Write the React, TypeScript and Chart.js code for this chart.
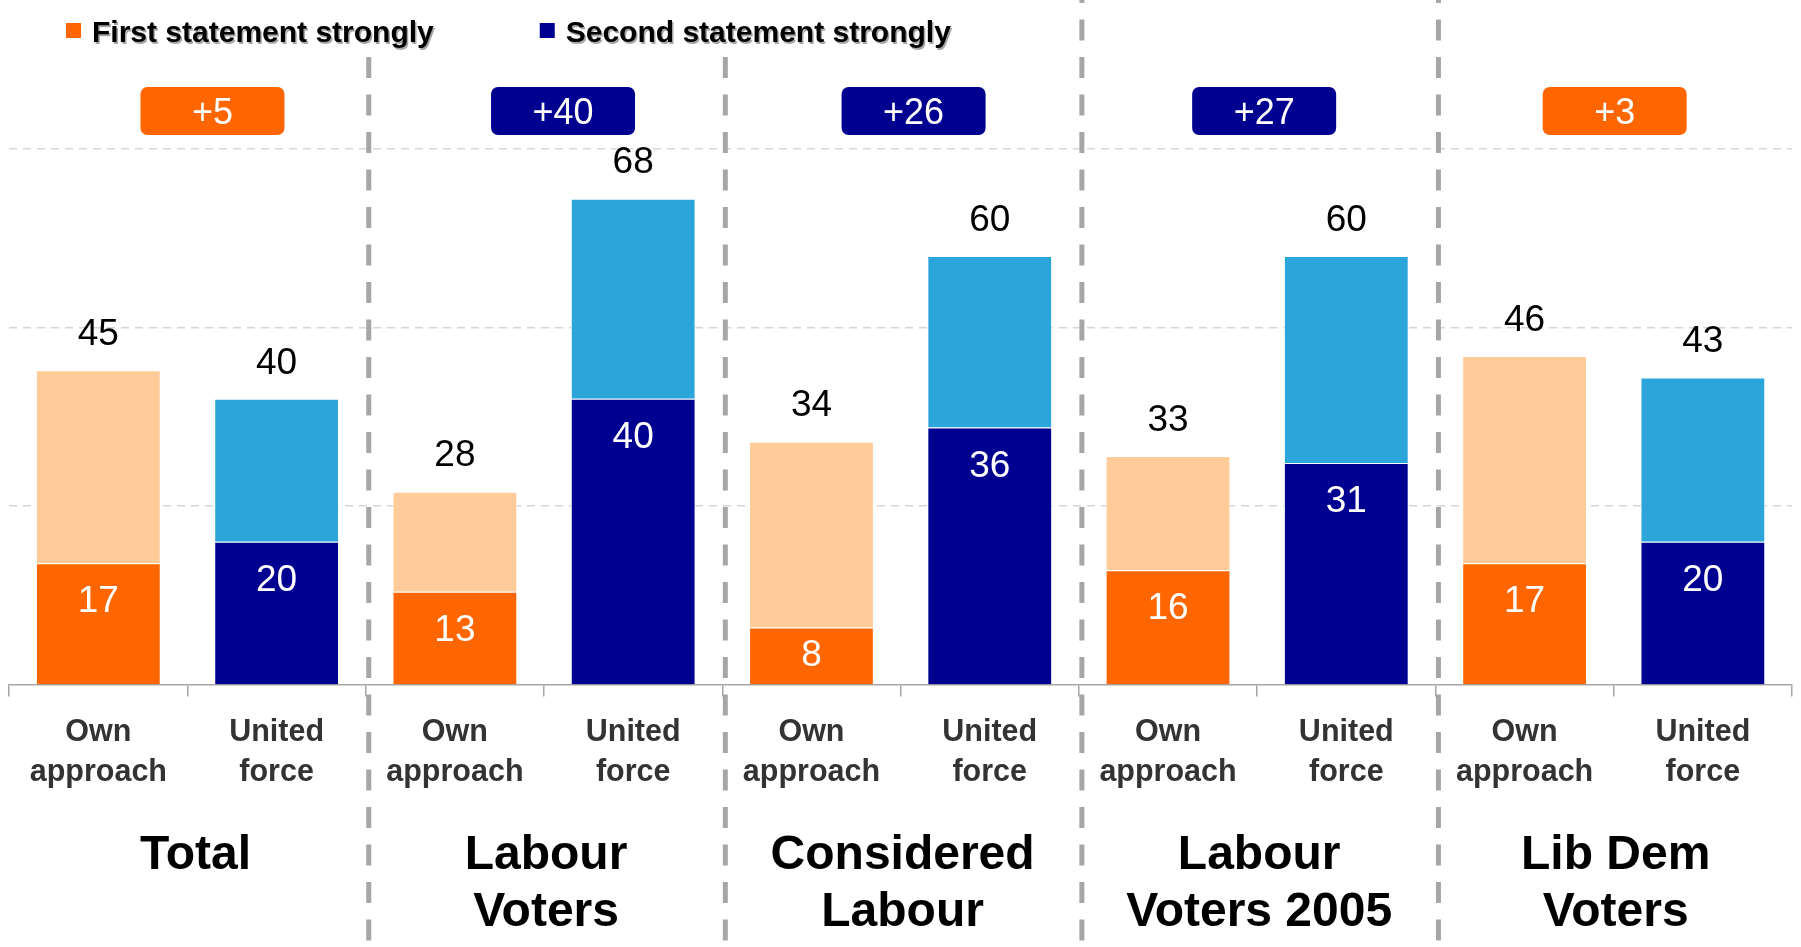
import React, { useEffect, useRef } from 'react';
import { Chart, registerables } from 'chart.js';

Chart.register(...registerables);

// ---------------- data ----------------
const barLabels: string[][] = [
  ['Own', 'approach'], ['United', 'force'],
  ['Own', 'approach'], ['United', 'force'],
  ['Own', 'approach'], ['United', 'force'],
  ['Own', 'approach'], ['United', 'force'],
  ['Own', 'approach'], ['United', 'force'],
];
const groupLabels: string[][] = [
  ['Total'],
  ['Labour', 'Voters'],
  ['Considered', 'Labour'],
  ['Labour', 'Voters 2005'],
  ['Lib Dem', 'Voters'],
];
// "strongly" share for each bar (Own approach / United force alternating)
const stronglyValues = [17, 20, 13, 40, 8, 36, 16, 31, 17, 20];
// remaining (not strongly) share, as drawn
const restValues = [27, 20, 14, 28, 26, 24, 16, 29, 29, 23];
// total labels printed above the bars
const totalValues = [45, 40, 28, 68, 34, 60, 33, 60, 46, 43];
const legendLabels = ['First statement strongly', 'Second statement strongly'];
const gridValues = [25, 50, 75];

// ---------------- styles ----------------
const ORANGE = '#FF6600';
const PEACH = '#FFCC99';
const NAVY = '#000090';
const SKY = '#2CA5DB';
const FONT = '"Liberation Sans", Arial, Helvetica, sans-serif';

const W = 1801;
const H = 947;

const isOwn = (i: number) => i % 2 === 0;

const firstStrong = stronglyValues.map((v, i) => (isOwn(i) ? v : null));
const firstRest = restValues.map((v, i) => (isOwn(i) ? v : null));
const secondStrong = stronglyValues.map((v, i) => (!isOwn(i) ? v : null));
const secondRest = restValues.map((v, i) => (!isOwn(i) ? v : null));

const overlayPlugin = {
  id: 'overlay',
  afterDraw(chart: any) {
    const ctx: CanvasRenderingContext2D = chart.ctx;
    const xs = chart.scales.x;
    const area = chart.chartArea;
    const catW = (area.right - area.left) / barLabels.length;

    ctx.save();
    // group separators
    ctx.strokeStyle = '#A6A6A6';
    ctx.lineWidth = 5;
    ctx.setLineDash([21, 16.5]);
    ctx.lineDashOffset = 18;
    for (let g = 1; g < groupLabels.length; g++) {
      const x = area.left + catW * g * 2 + 3;
      ctx.beginPath();
      ctx.moveTo(x, 0);
      ctx.lineTo(x, H);
      ctx.stroke();
    }
    ctx.setLineDash([]);

    // legend
    ctx.fillStyle = '#FFFFFF';
    ctx.fillRect(0, 0, 990, 57);
    ctx.font = `bold 30px ${FONT}`;
    ctx.textBaseline = 'alphabetic';
    ctx.textAlign = 'left';
    const legendColors = [ORANGE, NAVY];
    let lx = 66;
    legendLabels.forEach((t, k) => {
      ctx.fillStyle = legendColors[k];
      ctx.fillRect(lx, 23, 15, 15);
      ctx.save();
      ctx.shadowColor = 'rgba(0,0,0,0.35)';
      ctx.shadowOffsetX = 1.5;
      ctx.shadowOffsetY = 1.5;
      ctx.fillStyle = '#000000';
      ctx.fillText(t, lx + 26, 42);
      ctx.restore();
      lx += 26 + ctx.measureText(t).width + 106;
    });

    // difference badges
    for (let g = 0; g < groupLabels.length; g++) {
      const a = totalValues[g * 2];
      const b = totalValues[g * 2 + 1];
      const diff = b - a;
      const cx = (xs.getPixelForValue(g * 2) + xs.getPixelForValue(g * 2 + 1)) / 2 + 25 - 6 * g;
      const bw = 144;
      const bh = 48;
      const by = 87;
      ctx.fillStyle = diff >= 0 ? NAVY : ORANGE;
      ctx.beginPath();
      (ctx as any).roundRect(cx - bw / 2, by, bw, bh, 7);
      ctx.fill();
      ctx.fillStyle = '#FFFFFF';
      ctx.font = `36px ${FONT}`;
      ctx.textAlign = 'center';
      ctx.textBaseline = 'middle';
      ctx.fillText('+' + Math.abs(diff), cx, by + bh / 2 + 3);
    }

    // group labels
    ctx.fillStyle = '#000000';
    ctx.font = `bold 48px ${FONT}`;
    ctx.textAlign = 'center';
    ctx.textBaseline = 'alphabetic';
    groupLabels.forEach((lines, g) => {
      const cx = (xs.getPixelForValue(g * 2) + xs.getPixelForValue(g * 2 + 1)) / 2 + (g === 0 ? 8 : 2);
      lines.forEach((ln, j) => {
        ctx.fillText(ln, cx, 869 + j * 57);
      });
    });

    // value labels
    ctx.font = `37px ${FONT}`;
    ctx.textAlign = 'center';
    ctx.textBaseline = 'middle';
    chart.data.datasets.forEach((ds: any, di: number) => {
      const meta = chart.getDatasetMeta(di);
      meta.data.forEach((el: any, i: number) => {
        if (ds.data[i] === null || ds.data[i] === undefined) return;
        const top = Math.min(el.y, el.base);
        const base = Math.max(el.y, el.base);
        if (ds.kind === 'strong') {
          ctx.fillStyle = '#FFFFFF';
          const y = Math.min(top + 39, (top + base) / 2);
          ctx.fillText(String(stronglyValues[i]), el.x, y);
        } else {
          ctx.fillStyle = '#000000';
          ctx.fillText(String(totalValues[i]), el.x, top - 35.5);
        }
      });
    });
    ctx.restore();
  },
};

export default function App() {
  const ref = useRef<HTMLCanvasElement | null>(null);
  useEffect(() => {
    if (!ref.current) return;
    const chart = new Chart(ref.current, {
      type: 'bar',
      data: {
        labels: barLabels,
        datasets: [
          { label: legendLabels[0], kind: 'strong', data: firstStrong, backgroundColor: ORANGE, borderColor: 'rgba(255,255,255,0.9)', borderWidth: 1 } as any,
          { label: 'First statement', kind: 'rest', data: firstRest, backgroundColor: PEACH, borderColor: 'rgba(255,255,255,0.9)', borderWidth: 1 } as any,
          { label: legendLabels[1], kind: 'strong', data: secondStrong, backgroundColor: NAVY, borderColor: 'rgba(255,255,255,0.9)', borderWidth: 1 } as any,
          { label: 'Second statement', kind: 'rest', data: secondRest, backgroundColor: SKY, borderColor: 'rgba(255,255,255,0.9)', borderWidth: 1 } as any,
        ],
      },
      options: {
        responsive: false,
        animation: false,
        events: [],
        layout: { padding: { top: 41.6, left: 9.2, right: 9, bottom: 0 } },
        datasets: { bar: { barPercentage: 0.7, categoryPercentage: 1, skipNull: true } },
        plugins: { legend: { display: false }, tooltip: { enabled: false }, title: { display: false } },
        scales: {
          x: {
            stacked: true,
            offset: true,
            grid: { display: true, drawOnChartArea: false, drawTicks: true, tickLength: 12, color: '#A6A6A6', lineWidth: 1.5, offset: true },
            border: { display: true, color: '#A6A6A6', width: 1.5 },
            ticks: {
              color: '#333333',
              font: { family: FONT, size: 30.5, weight: 'bold', lineHeight: 1.31 },
              padding: 16.5,
              maxRotation: 0,
              autoSkip: false,
            },
            afterFit: (scale: any) => { scale.height = H - 684.6; },
          },
          y: {
            stacked: true,
            min: 0,
            max: 90,
            display: true,
            ticks: { display: false },
            grid: { color: '#D6D6D6', lineWidth: 1.5, drawTicks: false },
            border: { display: false, dash: [8, 6] },
            afterBuildTicks: (scale: any) => { scale.ticks = gridValues.map((v) => ({ value: v })); },
          },
        },
      } as any,
      plugins: [overlayPlugin],
    });
    return () => chart.destroy();
  }, []);
  return (
    <div style={{ position: 'fixed', left: 0, top: 0, width: W, height: H, background: '#FFFFFF' }}>
      <canvas ref={ref} width={W} height={H} style={{ display: 'block' }} />
    </div>
  );
}
